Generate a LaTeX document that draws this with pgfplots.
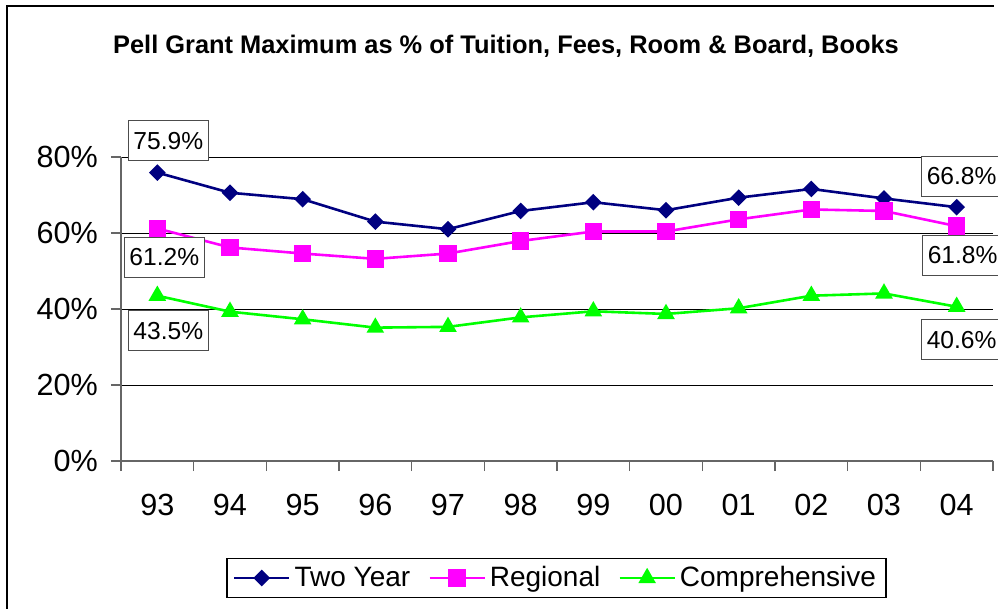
\documentclass[border=0pt]{standalone}
\usepackage{fontspec}
\setmainfont{Liberation Sans}
\usepackage{pgfplots}
\pgfplotsset{compat=1.18}
\definecolor{navyc}{RGB}{0,0,128}
\definecolor{magc}{RGB}{255,0,255}
\definecolor{grnc}{RGB}{0,255,0}
\tikzset{lbl/.style={draw=gray!60!black, fill=white, line width=0.6pt, minimum width=40pt, minimum height=20pt, inner sep=0pt, font=\fontsize{12.3}{14}\selectfont}}
\begin{document}
\begin{tikzpicture}
\useasboundingbox (0,0) rectangle (499pt,-304.5pt);
\draw[line width=0.8pt] (3.5pt,-304.5pt) -- (3.5pt,-3pt) -- (497pt,-3pt);
\node[anchor=base, font=\fontsize{12.7}{14}\selectfont\bfseries] at (253pt,-26.65pt) {Pell Grant Maximum as \% of Tuition, Fees, Room \& Board, Books};
\begin{axis}[
  at={(60.5pt,-230.5pt)}, anchor=south west,
  scale only axis, width=436pt, height=152pt,
  xmin=-0.5, xmax=11.5, ymin=0, ymax=80,
  axis x line=bottom, axis y line=left,
  axis line style={draw=gray!80!black, line width=0.75pt, -},
  xtick={-0.5,0.5,...,11.5},
  x tick label as interval,
  xticklabels={93,94,95,96,97,98,99,00,01,02,03,04},
  ytick={0,20,40,60,80},
  yticklabels={0\%,20\%,40\%,60\%,80\%},
  tick align=outside, major tick length=5pt,
  tick style={draw=gray!80!black, line width=0.6pt},
  ymajorgrids, grid style={black, line width=0.5pt},
  ticklabel style={font=\fontsize{15.3}{18}\selectfont},
  xticklabel style={yshift=-8pt},
  yticklabel style={xshift=-3pt},
  /pgf/number format/assume math mode=true,
  clip=false,
  legend columns=3,
  legend style={at={(0.4994,-0.385)}, anchor=center, draw=black, line width=0.6pt,
    font=\fontsize{14}{16}\selectfont, inner xsep=3pt, inner ysep=2pt,
    /tikz/every even column/.append style={column sep=7pt}},
  legend image code/.code={\draw[mark repeat=2,mark phase=2] plot coordinates {(0pt,0pt) (13.75pt,0pt) (27.5pt,0pt)};},
]
\addplot[navyc, line width=1.3pt, mark=square*, mark size=2.3pt, mark options={rotate=45, solid}] coordinates {
(0,75.9) (1,70.6) (2,68.9) (3,63.0) (4,61.0) (5,65.8) (6,68.1) (7,66.0) (8,69.3) (9,71.6) (10,69.1) (11,66.8)};
\addlegendentry{Two Year}
\addplot[magc, line width=1.3pt, mark=square*, mark size=3.75pt] coordinates {
(0,61.2) (1,56.2) (2,54.6) (3,53.2) (4,54.6) (5,57.9) (6,60.4) (7,60.4) (8,63.6) (9,66.2) (10,65.8) (11,61.8)};
\addlegendentry{Regional}
\addplot[grnc, line width=1.3pt, mark=triangle*, mark size=3.8pt] coordinates {
(0,43.5) (1,39.3) (2,37.3) (3,35.1) (4,35.3) (5,37.8) (6,39.4) (7,38.7) (8,40.2) (9,43.5) (10,44.1) (11,40.6)};
\addlegendentry{Comprehensive}
\node[lbl, xshift=5.5pt, yshift=16pt] at (axis cs:0,75.9) {75.9\%};
\node[lbl, xshift=3.5pt, yshift=-14.5pt] at (axis cs:0,61.2) {61.2\%};
\node[lbl, xshift=5.5pt, yshift=-17.5pt] at (axis cs:0,43.5) {43.5\%};
\node[lbl, xshift=2.5pt, yshift=15.5pt] at (axis cs:11,66.8) {66.8\%};
\node[lbl, xshift=3pt, yshift=-14.5pt] at (axis cs:11,61.8) {61.8\%};
\node[lbl, xshift=2.5pt, yshift=-16.5pt] at (axis cs:11,40.6) {40.6\%};
\end{axis}
\end{tikzpicture}
\end{document}
